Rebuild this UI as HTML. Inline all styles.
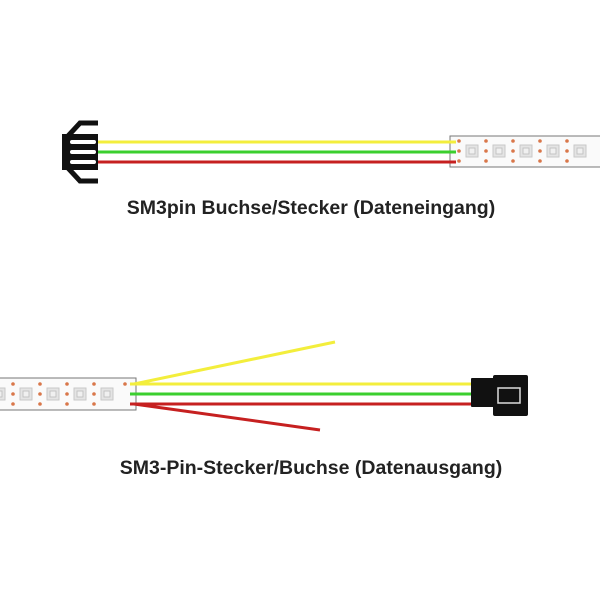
<!DOCTYPE html>
<html><head><meta charset="utf-8"><style>
html,body{margin:0;padding:0;background:#fff;width:600px;height:600px;overflow:hidden}
.t{font-family:"Liberation Sans",sans-serif;font-weight:bold;font-size:19.5px;fill:#222}
</style></head><body>
<svg width="600" height="600" xmlns="http://www.w3.org/2000/svg">
<defs>
<g id="u">
<rect x="0" y="6" width="12" height="12" fill="#e4e4e4" stroke="#c8c8c8"/>
<rect x="3" y="9" width="6" height="6" fill="#f0f0f0" stroke="#bbb" stroke-width="0.8"/>
<circle cx="-7" cy="2" r="1.8" fill="#d9774a"/>
<circle cx="-7" cy="12" r="1.8" fill="#d9774a"/>
<circle cx="-7" cy="22" r="1.8" fill="#d9774a"/>
</g>
</defs>
<rect x="450" y="136" width="152" height="31" fill="#fafafa" stroke="#777" stroke-width="1"/>
<g transform="translate(466,139)"><use href="#u"/></g>
<g transform="translate(493,139)"><use href="#u"/></g>
<g transform="translate(520,139)"><use href="#u"/></g>
<g transform="translate(547,139)"><use href="#u"/></g>
<g transform="translate(574,139)"><use href="#u"/></g>
<line x1="98" y1="142" x2="456" y2="142" stroke="#f3ee3c" stroke-width="3"/>
<line x1="98" y1="152" x2="456" y2="152" stroke="#3bcf2e" stroke-width="3"/>
<line x1="98" y1="162" x2="456" y2="162" stroke="#c62020" stroke-width="3"/>
<path d="M62 134 L98 134 L98 170 L62 170 Z" fill="#111"/>
<path d="M68 136 L80 123 L98 123" fill="none" stroke="#111" stroke-width="5"/>
<path d="M68 168 L80 181 L98 181" fill="none" stroke="#111" stroke-width="5"/>
<rect x="70" y="140" width="26" height="4" rx="2" fill="#fff"/>
<rect x="70" y="150" width="26" height="4" rx="2" fill="#fff"/>
<rect x="70" y="160" width="26" height="4" rx="2" fill="#fff"/>
<text class="t" x="311" y="214" text-anchor="middle">SM3pin Buchse/Stecker (Dateneingang)</text>
<rect x="-2" y="378" width="138" height="32" fill="#fafafa" stroke="#777" stroke-width="1"/>
<g transform="translate(-7,382)"><use href="#u"/></g>
<g transform="translate(20,382)"><use href="#u"/></g>
<g transform="translate(47,382)"><use href="#u"/></g>
<g transform="translate(74,382)"><use href="#u"/></g>
<g transform="translate(101,382)"><use href="#u"/></g>
<circle cx="125" cy="384" r="1.8" fill="#d9774a"/>
<line x1="130" y1="384" x2="474" y2="384" stroke="#f3ee3c" stroke-width="3"/>
<line x1="130" y1="394" x2="474" y2="394" stroke="#3bcf2e" stroke-width="3"/>
<line x1="130" y1="404" x2="474" y2="404" stroke="#c62020" stroke-width="3"/>
<line x1="134" y1="384" x2="335" y2="342" stroke="#f3ee3c" stroke-width="3"/>
<line x1="134" y1="404" x2="320" y2="430" stroke="#c62020" stroke-width="3"/>
<rect x="471" y="378" width="26" height="29" rx="1" fill="#111"/>
<rect x="493" y="375" width="35" height="41" rx="2" fill="#111"/>
<rect x="498" y="388" width="22" height="15" fill="none" stroke="#ddd" stroke-width="1.5"/>
<text class="t" x="311" y="474" text-anchor="middle">SM3-Pin-Stecker/Buchse (Datenausgang)</text>
</svg>
</body></html>
